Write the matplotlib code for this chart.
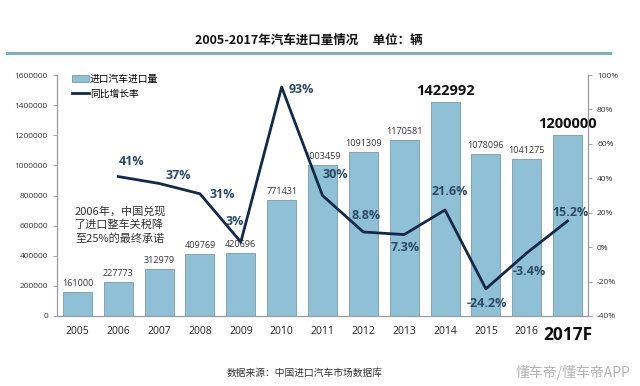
#!/usr/bin/env python3
import matplotlib
matplotlib.use("Agg")
import matplotlib.pyplot as plt
from matplotlib.lines import Line2D
from matplotlib.patches import Patch
import numpy as np

plt.rcParams["font.family"] = ["Open Sans", "Noto Sans CJK SC", "DejaVu Sans"]

CJK = ["Noto Sans CJK SC", "DejaVu Sans"]

years = ["2005", "2006", "2007", "2008", "2009", "2010", "2011",
         "2012", "2013", "2014", "2015", "2016", "2017F"]
imports = [161000, 227773, 312979, 409769, 420696, 771431, 1003459,
           1091309, 1170581, 1422992, 1078096, 1041275, 1200000]
growth = [None, 41, 37, 31, 3, 93, 30, 8.8, 7.3, 21.6, -24.2, -3.4, 15.2]
growth_labels = ["", "41%", "37%", "31%", "3%", "93%", "30%", "8.8%",
                 "7.3%", "21.6%", "-24.2%", "-3.4%", "15.2%"]
bold_bars = {1422992, 1200000}

# label offsets in pixels (style only)
growth_offsets = [(0, 0), (13, 15), (19, 8), (22, -1), (-6, 20), (20, -2),
                  (13, 21), (3, 16), (1, -13), (5, 18), (1, -15), (3, -19),
                  (3, 8)]

BAR_COLOR = "#8fc0d5"
BAR_EDGE = "#7a9aaa"
LINE_COLOR = "#14284a"
PCT_COLOR = "#2b4a66"
AXIS_COLOR = "#9a9a9a"

fig = plt.figure(figsize=(6.4, 3.86), dpi=100)
ax = fig.add_axes([57 / 640, 1 - 316 / 386, (588 - 57) / 640, (316 - 75) / 386])
ax2 = ax.twinx()

x = np.arange(len(years))
ax.bar(x, imports, width=0.71, color=BAR_COLOR, edgecolor=BAR_EDGE,
       linewidth=0.6, zorder=2)
ax.set_xlim(-0.5, len(years) - 0.5)
ax.set_ylim(0, 1600000)
ax.set_yticks(np.arange(0, 1600001, 200000))
ax.set_yticklabels([str(v) for v in range(0, 1600001, 200000)])

for xi, v in zip(x, imports):
    if v in bold_bars:
        ax.annotate(str(v), (xi, v), xytext=(0, 4), textcoords="offset pixels",
                    ha="center", va="bottom", fontsize=10.5,
                    fontweight="bold", color="#111111")
    else:
        ax.annotate(str(v), (xi, v), xytext=(0, 4), textcoords="offset pixels",
                    ha="center", va="bottom", fontsize=6.5, color="#333333")

gx = [xi for xi, g in zip(x, growth) if g is not None]
gy = [g for g in growth if g is not None]
ax2.plot(gx, gy, color=LINE_COLOR, linewidth=2.0, zorder=3)
ax2.set_ylim(-40, 100)
ax2.set_yticks(np.arange(-40, 101, 20))
ax2.set_yticklabels([f"{v}%" for v in range(-40, 101, 20)])

for xi, g, lab, off in zip(x, growth, growth_labels, growth_offsets):
    if g is None:
        continue
    ax2.annotate(lab, (xi, g), xytext=off, textcoords="offset pixels",
                 ha="center", va="center", fontsize=9, fontweight="bold",
                 color=PCT_COLOR)

ax.set_xticks(x)
ax.set_xticklabels(years)
for lab in ax.get_xticklabels():
    if lab.get_text() == "2017F":
        lab.set_fontsize(12.5)
        lab.set_fontweight("bold")
        lab.set_color("#111111")
    else:
        lab.set_fontsize(7.5)
        lab.set_color("#222222")
ax.tick_params(axis="x", length=0, pad=7)
ax.tick_params(axis="y", labelsize=6, colors="#333333", length=3,
               color=AXIS_COLOR, width=0.6)
ax2.tick_params(axis="y", labelsize=6, colors="#333333", length=3,
                color=AXIS_COLOR, width=0.6)

for a in (ax, ax2):
    a.spines["top"].set_visible(False)
    for s in ("left", "right", "bottom"):
        a.spines[s].set_color(AXIS_COLOR)
        a.spines[s].set_linewidth(0.8)

handles = [Patch(facecolor=BAR_COLOR, edgecolor=BAR_EDGE, linewidth=0.6),
           Line2D([0], [0], color=LINE_COLOR, linewidth=2.0)]
ax2.legend(handles, ["进口汽车进口量", "同比增长率"], loc="upper left",
           bbox_to_anchor=(0.02, 1.02), frameon=False,
           prop={"family": CJK, "size": 7}, handlelength=1.8,
           handletextpad=0.1, labelspacing=0.45, borderaxespad=0)

fig.text(75 / 640, 1 - 225 / 386, "2006年，中国兑现\n了进口整车关税降\n至25%的最终承诺",
         fontsize=8, color="#333333", family=CJK,
         ha="left", va="center", linespacing=1.35)

# title with rule beneath
fig.text(309 / 640, 1 - 40 / 386, "2005-2017年汽车进口量情况     单位：辆",
         ha="center", va="center", fontsize=9, fontweight="bold",
         family=CJK, color="#111111")
fig.add_artist(Line2D([7 / 640, 610 / 640], [1 - 52.5 / 386] * 2,
                      color="#7fb0b8", linewidth=2.2))

fig.text(305 / 640, 1 - 373 / 386, "数据来源：中国进口汽车市场数据库",
         ha="center", va="center", fontsize=7, family=CJK, color="#333333")
fig.text(630 / 640, 1 - 372 / 386, "懂车帝/懂车帝APP", ha="right",
         va="center", fontsize=10, family=CJK, color="#b5b5b5")

fig.savefig("out.png", dpi=100)
